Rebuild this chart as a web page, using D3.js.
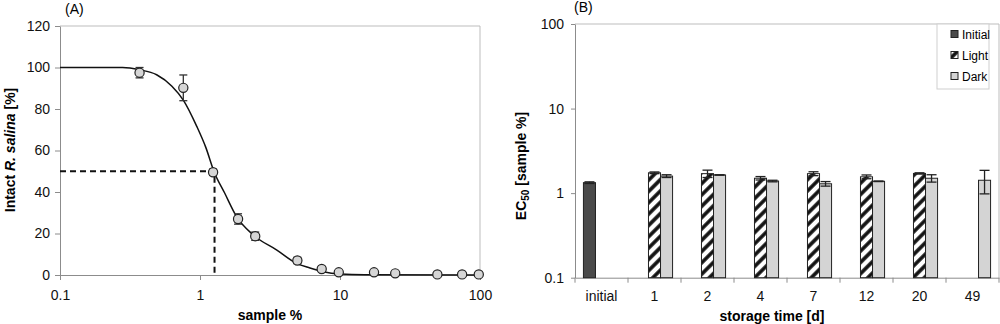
<!DOCTYPE html>
<html>
<head>
<meta charset="utf-8">
<script src="https://cdn.jsdelivr.net/npm/d3@7"></script>
<style>
  body { margin: 0; background: #fff; }
  svg { display: block; font-family: "Liberation Sans", Arial, sans-serif; }
</style>
</head>
<body>
<svg id="chart" width="1000" height="324"></svg>
<script>
// ---- panel A data: dose-response (sample %, intact R. salina %)
const doseX = [0.37, 0.76, 1.24, 1.87, 2.48, 4.96, 7.4, 9.8, 17.5, 24.8, 49.6, 74.5, 98];
const doseY = [97.5, 90.2, 49.5, 27, 18.7, 7, 2.9, 1.3, 1.3, 0.8, 0.3, 0.3, 0.3];
const doseErr = [2.5, 6.2, 1.5, 2.5, 2, 1.5, 0.8, 0.5, 0.5, 0.5, 0.3, 0.3, 0.3];
// fitted curve
const fitX = [0.1, 0.28, 0.37, 0.49, 0.63, 0.76, 0.95, 1.1, 1.26, 1.5, 1.83, 2.4, 3.54, 4.9, 6.1, 7.6, 10, 15, 100];
const fitY = [100, 100, 98.9, 96.5, 91, 84.3, 71.5, 61.5, 49.8, 39.5, 28, 19.3, 12, 5.6, 3.4, 1.6, 0.5, 0.1, 0];
const ec50 = 1.27;
const yTicksA = [0, 20, 40, 60, 80, 100, 120];
const xTicksA = [0.1, 1, 10, 100];

// ---- panel B data: EC50 over storage time
const days = ["initial", "1", "2", "4", "7", "12", "20", "49"];
const seriesNames = ["Initial", "Light", "Dark"];
const initialVals = [1.33, null, null, null, null, null, null, null];
const initialErr = [0.03, null, null, null, null, null, null, null];
const lightVals = [null, 1.74, 1.70, 1.50, 1.70, 1.56, 1.71, null];
const lightErr = [null, 0.04, 0.17, 0.07, 0.09, 0.08, 0.03, null];
const darkVals = [null, 1.59, 1.64, 1.39, 1.29, 1.38, 1.50, 1.42];
const darkErr = [null, 0.06, 0.01, 0.03, 0.08, 0.01, 0.15, 0.44];
const yTicksB = [0.1, 1, 10, 100];

const svg = d3.select("#chart");
const axisGray = "#8c8c8c";
const fs = "14px";

// hatch pattern for "Light"
svg.append("defs").append("pattern")
    .attr("id", "hatch")
    .attr("patternUnits", "userSpaceOnUse")
    .attr("width", 8).attr("height", 8)
    .attr("patternTransform", "rotate(45)")
  .call(p => {
      p.append("rect").attr("width", 8).attr("height", 8).attr("fill", "#fff");
      p.append("line").attr("x1", 2).attr("x2", 2).attr("y1", 0).attr("y2", 8)
          .attr("stroke", "#111").attr("stroke-width", 3.6);
  });

function styleAxis(g) {
    g.select(".domain").attr("stroke", axisGray);
    g.selectAll(".tick line").attr("stroke", axisGray);
    g.selectAll(".tick text").attr("fill", "#111").style("font-size", fs);
}

// ================= Panel A =================
const xA = d3.scaleLog().domain([0.1, 100]).range([60, 480]);
const yA = d3.scaleLinear().domain([0, 120]).range([275, 26]);

const gA = svg.append("g");

// frame top/right
gA.append("path")
    .attr("d", `M${xA(0.1)},${yA(120)}H${xA(100)}V${yA(0)}`)
    .attr("fill", "none").attr("stroke", "#bdbdbd");

gA.append("g")
    .attr("transform", `translate(0,${yA(0)})`)
    .call(d3.axisBottom(xA).tickValues(xTicksA).tickFormat(d3.format("~g")).tickSize(5).tickPadding(10).tickSizeOuter(0))
    .call(styleAxis);

gA.append("g")
    .attr("transform", `translate(${xA(0.1)},0)`)
    .call(d3.axisLeft(yA).tickValues(yTicksA).tickSize(5).tickPadding(5).tickSizeOuter(0))
    .call(styleAxis);

// dashed EC50 guides
gA.append("path")
    .attr("d", `M${xA(0.1)},${yA(50)}H${xA(ec50)}V${yA(0)}`)
    .attr("fill", "none").attr("stroke", "#111")
    .attr("stroke-width", 2).attr("stroke-dasharray", "6,4");

// fitted curve
const fitLine = d3.line()
    .x((d, i) => xA(fitX[i]))
    .y(d => yA(d))
    .curve(d3.curveMonotoneX);
gA.append("path")
    .datum(fitY)
    .attr("d", fitLine)
    .attr("fill", "none").attr("stroke", "#111").attr("stroke-width", 1.5);

// error bars
const doseData = doseX.map((x, i) => ({ x, y: doseY[i], e: doseErr[i] }));
const eb = gA.selectAll(".eb").data(doseData).enter().append("g").attr("stroke", "#333").attr("stroke-width", 1.3);
eb.append("line")
    .attr("x1", d => xA(d.x)).attr("x2", d => xA(d.x))
    .attr("y1", d => yA(d.y - d.e)).attr("y2", d => yA(d.y + d.e));
eb.append("line")
    .attr("x1", d => xA(d.x) - 4).attr("x2", d => xA(d.x) + 4)
    .attr("y1", d => yA(d.y - d.e)).attr("y2", d => yA(d.y - d.e));
eb.append("line")
    .attr("x1", d => xA(d.x) - 4).attr("x2", d => xA(d.x) + 4)
    .attr("y1", d => yA(d.y + d.e)).attr("y2", d => yA(d.y + d.e));

gA.selectAll("circle").data(doseData).enter().append("circle")
    .attr("cx", d => xA(d.x)).attr("cy", d => yA(d.y))
    .attr("r", 4.6)
    .attr("fill", "#d6d6d6").attr("stroke", "#222").attr("stroke-width", 1.2);

gA.append("text").attr("x", 65).attr("y", 14).text("(A)").style("font-size", fs);
gA.append("text").attr("x", xA(Math.sqrt(10))).attr("y", 320)
    .attr("text-anchor", "middle").style("font-size", fs).style("font-weight", "bold")
    .text("sample %");
gA.append("text")
    .attr("transform", "translate(15,150) rotate(-90)")
    .attr("text-anchor", "middle").style("font-size", fs).style("font-weight", "bold")
    .call(t => {
        t.append("tspan").text("Intact ");
        t.append("tspan").style("font-style", "italic").text("R. salina");
        t.append("tspan").text(" [%]");
    });

// ================= Panel B =================
const xB = d3.scaleBand().domain(days).range([575, 999]).paddingInner(0).paddingOuter(0);
const xSub = d3.scaleBand().domain(seriesNames).range([0, xB.bandwidth()]).paddingInner(0).paddingOuter(0.7);
const yB = d3.scaleLog().domain([0.1, 100]).range([277.7, 24]);

const gB = svg.append("g");

gB.append("path")
    .attr("d", `M${xB.range()[0]},${yB(100)}H${xB.range()[1]}V${yB(0.1)}`)
    .attr("fill", "none").attr("stroke", "#bdbdbd");

gB.append("g")
    .attr("transform", `translate(${xB.range()[0]},0)`)
    .call(d3.axisLeft(yB).tickValues(yTicksB).tickFormat(d3.format("~g")).tickSize(4).tickPadding(7).tickSizeOuter(0))
    .call(styleAxis);

const xAxisB = gB.append("g")
    .attr("transform", `translate(0,${yB(0.1)})`)
    .call(d3.axisBottom(xB).tickSize(0).tickPadding(13).tickSizeOuter(0))
    .call(styleAxis);
// category boundary ticks
xAxisB.selectAll(".bound").data(days.concat(["end"])).enter().append("line")
    .attr("x1", (d, i) => i < days.length ? xB(d) : xB.range()[1])
    .attr("x2", (d, i) => i < days.length ? xB(d) : xB.range()[1])
    .attr("y1", 0).attr("y2", 5)
    .attr("stroke", axisGray);

const fills = { Initial: "#4a4a4a", Light: "url(#hatch)", Dark: "#d4d4d4" };
const barData = [];
days.forEach((d, i) => {
    [[initialVals, initialErr, "Initial"], [lightVals, lightErr, "Light"], [darkVals, darkErr, "Dark"]]
        .forEach(([vals, errs, s]) => {
            if (vals[i] != null) barData.push({ day: d, s, v: vals[i], e: errs[i] });
        });
});

gB.selectAll("rect.bar").data(barData).enter().append("rect")
    .attr("class", "bar")
    .attr("x", d => xB(d.day) + xSub(d.s))
    .attr("width", xSub.bandwidth())
    .attr("y", d => yB(d.v))
    .attr("height", d => yB(0.1) - yB(d.v))
    .attr("fill", d => fills[d.s])
    .attr("stroke", "#222").attr("stroke-width", 1);

const ebB = gB.selectAll(".ebB").data(barData).enter().append("g").attr("stroke", "#222").attr("stroke-width", 1.3);
const cx = d => xB(d.day) + xSub(d.s) + xSub.bandwidth() / 2;
ebB.append("line")
    .attr("x1", cx).attr("x2", cx)
    .attr("y1", d => yB(d.v - d.e)).attr("y2", d => yB(d.v + d.e));
ebB.append("line")
    .attr("x1", d => cx(d) - 5).attr("x2", d => cx(d) + 5)
    .attr("y1", d => yB(d.v - d.e)).attr("y2", d => yB(d.v - d.e));
ebB.append("line")
    .attr("x1", d => cx(d) - 5).attr("x2", d => cx(d) + 5)
    .attr("y1", d => yB(d.v + d.e)).attr("y2", d => yB(d.v + d.e));

// legend
const leg = gB.append("g").attr("transform", "translate(937,24)");
leg.append("rect").attr("width", 52).attr("height", 65)
    .attr("fill", "#fff").attr("stroke", "#cfcfcf");
seriesNames.forEach((s, i) => {
    const row = leg.append("g").attr("transform", `translate(14,${10 + i * 21})`);
    row.append("rect").attr("x", 0).attr("y", -3.5).attr("width", 7).attr("height", 7)
        .attr("fill", fills[s]).attr("stroke", "#222").attr("stroke-width", 1);
    row.append("text").attr("x", 11).attr("y", 4.5).style("font-size", "12px").text(s);
});

gB.append("text").attr("x", 574).attr("y", 12).text("(B)").style("font-size", fs);
gB.append("text").attr("x", 772).attr("y", 321)
    .attr("text-anchor", "middle").style("font-size", fs).style("font-weight", "bold")
    .text("storage time [d]");
gB.append("text")
    .attr("transform", "translate(526,166) rotate(-90)")
    .attr("text-anchor", "middle").style("font-size", fs).style("font-weight", "bold")
    .call(t => {
        t.append("tspan").text("EC");
        t.append("tspan").attr("dy", 3).style("font-size", "10px").text("50");
        t.append("tspan").attr("dy", -3).text(" [sample %]");
    });
</script>
</body>
</html>
